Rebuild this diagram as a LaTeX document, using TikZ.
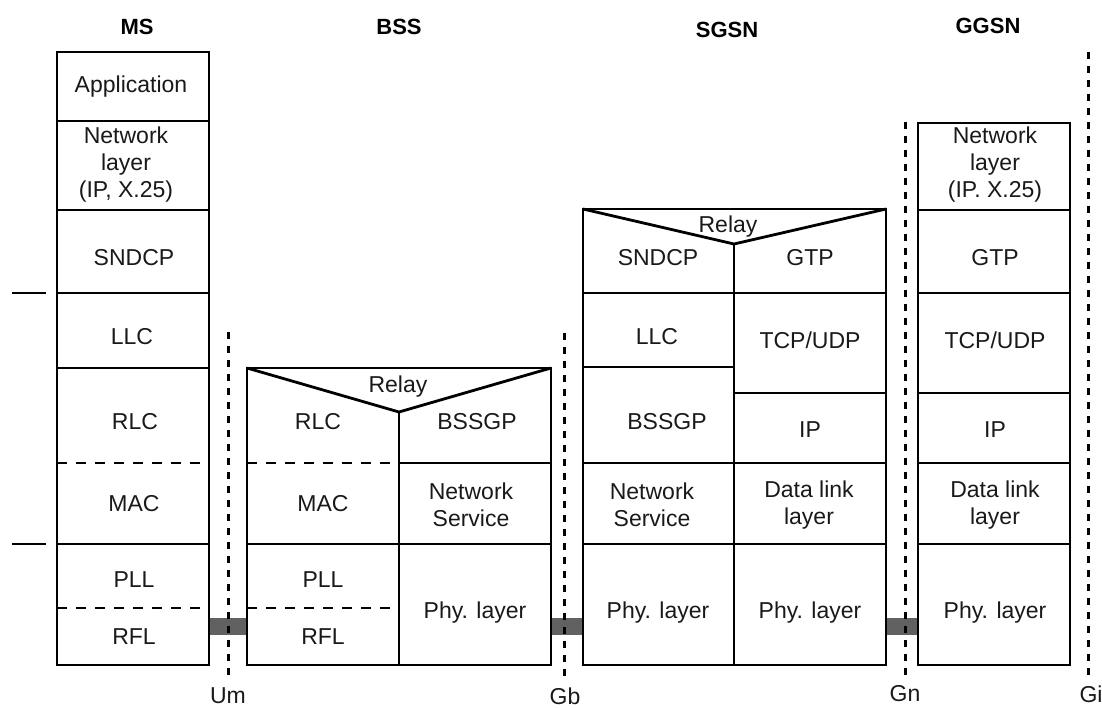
\documentclass[tikz,border=0pt]{standalone}
\usepackage{fontspec}
\setmainfont{Liberation Sans}
\begin{document}
\begin{tikzpicture}[x=1pt,y=-1pt,
  box/.style={draw,line width=2.8pt,inner sep=0pt},
  sep/.style={line width=2.8pt,line join=miter},
  dsep/.style={line width=2.8pt,dash pattern=on 10pt off 9pt},
  iface/.style={line width=3pt,dash pattern=on 7pt off 7pt},
  lbl/.style={inner sep=0pt,align=center,text=black!90,font=\fontsize{23}{27}\selectfont},
  head/.style={inner sep=0pt,font=\fontsize{22}{26}\selectfont\bfseries},
  bar/.style={fill=black!62},
  ]
\useasboundingbox (0,0) rectangle (1102,708);

% headers
\node[head] (hms) at (137,27) {MS};
\node[head] (hbss) at (399,27) {BSS};
\node[head] (hsgsn) at (727,30) {SGSN};
\node[head] (hggsn) at (988,26) {GGSN};

% stack outlines (positions only)
\coordinate (msTL) at (57,52);   \coordinate (msBR) at (209,665);
\coordinate (bssTL) at (247,368); \coordinate (bssBR) at (551,665);
\coordinate (sgTL) at (583,209);  \coordinate (sgBR) at (886,665);
\coordinate (ggTL) at (918,123);  \coordinate (ggBR) at (1070,665);

% grey physical links
\fill[bar] (209,618) rectangle (247,635);
\fill[bar] (551,618) rectangle (583,635);
\fill[bar] (886,618) rectangle (918,635);

% interface lines
\coordinate (umT) at (228,332); \coordinate (umB) at (228,678);
\coordinate (gbT) at (564,333); \coordinate (gbB) at (564,678);
\coordinate (gnT) at (905,122); \coordinate (gnB) at (905,678);
\coordinate (giT) at (1088,52); \coordinate (giB) at (1088,678);
\draw[iface] (umT) -- (umB);
\draw[iface] (gbT) -- (gbB);
\draw[iface] (gnT) -- (gnB);
\draw[iface] (giT) -- (giB);
\node[lbl] (um) at (228,696) {Um};
\node[lbl] (gb) at (565,696) {Gb};
\node[lbl] (gn) at (905,694) {Gn};
\node[lbl] (gi) at (1091,694) {Gi};

% left marks
\coordinate (m1a) at (12,293); \coordinate (m1b) at (46,293);
\coordinate (m2a) at (12,544); \coordinate (m2b) at (46,544);
\draw[sep] (m1a) -- (m1b);
\draw[sep] (m2a) -- (m2b);

% ---------- MS ----------
\draw[box] (msTL) rectangle (msBR);
\draw[sep] (57,121) -- (209,121);
\draw[sep] (57,210) -- (209,210);
\draw[sep] (57,293) -- (209,293);
\draw[sep] (57,368) -- (209,368);
\draw[dsep] (57,463) -- (209,463);
\draw[sep] (57,544) -- (209,544);
\draw[dsep] (57,608) -- (209,608);
\node[lbl] (msapp) at (131,87) {Application};
\node[lbl] (msnet) at (126,165) {Network\\layer\\(IP, X.25)};
\node[lbl] (mssnd) at (134,258) {SNDCP};
\node[lbl] (msllc) at (132,337) {LLC};
\node[lbl] (msrlc) at (135,422) {RLC};
\node[lbl] (msmac) at (134,504) {MAC};
\node[lbl] (mspll) at (134,580) {PLL};
\node[lbl] (msrfl) at (134,637) {RFL};

% ---------- BSS ----------
\draw[box] (bssTL) rectangle (bssBR);
\coordinate (bssV) at (399,412);
\draw[sep] (247,368) -- (bssV) -- (551,368);
\draw[sep] (bssV) -- (399,665);
\draw[dsep] (247,463) -- (399,463);
\draw[sep] (399,463) -- (551,463);
\draw[sep] (247,544) -- (551,544);
\draw[dsep] (247,608) -- (399,608);
\node[lbl] (bssrelay) at (398,387) {Relay};
\node[lbl] (bssrlc) at (318,422) {RLC};
\node[lbl] (bssmac) at (323,504) {MAC};
\node[lbl] (bsspll) at (323,580) {PLL};
\node[lbl] (bssrfl) at (323,637) {RFL};
\node[lbl] (bssbssgp) at (477,422) {BSSGP};
\node[lbl] (bssns) at (471,505) {Network\\Service};
\node[lbl] (bssphy) at (475,613) {Phy. layer};

% ---------- SGSN ----------
\draw[box] (sgTL) rectangle (sgBR);
\coordinate (sgV) at (734,244);
\draw[sep] (583,209) -- (sgV) -- (886,209);
\draw[sep] (sgV) -- (734,665);
\draw[sep] (583,293) -- (886,293);
\draw[sep] (583,367) -- (734,367);
\draw[sep] (734,393) -- (886,393);
\draw[sep] (583,463) -- (886,463);
\draw[sep] (583,544) -- (886,544);
\node[lbl] (sgrelay) at (728,227) {Relay};
\node[lbl] (sgsnd) at (658,258) {SNDCP};
\node[lbl] (sggtp) at (810,258) {GTP};
\node[lbl] (sgllc) at (657,337) {LLC};
\node[lbl] (sgtcp) at (810,340) {TCP/UDP};
\node[lbl] (sgbssgp) at (667,422) {BSSGP};
\node[lbl] (sgip) at (810,430) {IP};
\node[lbl] (sgns) at (652,505) {Network\\Service};
\node[lbl] (sgdl) at (809,505) {Data link\\layer};
\node[lbl] (sgphy1) at (658,613) {Phy. layer};
\node[lbl] (sgphy2) at (810,613) {Phy. layer};

% ---------- GGSN ----------
\draw[box] (ggTL) rectangle (ggBR);
\draw[sep] (918,210) -- (1070,210);
\draw[sep] (918,293) -- (1070,293);
\draw[sep] (918,393) -- (1070,393);
\draw[sep] (918,463) -- (1070,463);
\draw[sep] (918,544) -- (1070,544);
\node[lbl] (ggnet) at (995,165) {Network\\layer\\(IP. X.25)};
\node[lbl] (gggtp) at (995,258) {GTP};
\node[lbl] (ggtcp) at (995,340) {TCP/UDP};
\node[lbl] (ggip) at (995,430) {IP};
\node[lbl] (ggdl) at (995,505) {Data link\\layer};
\node[lbl] (ggphy) at (995,613) {Phy. layer};
\end{tikzpicture}
\end{document}
